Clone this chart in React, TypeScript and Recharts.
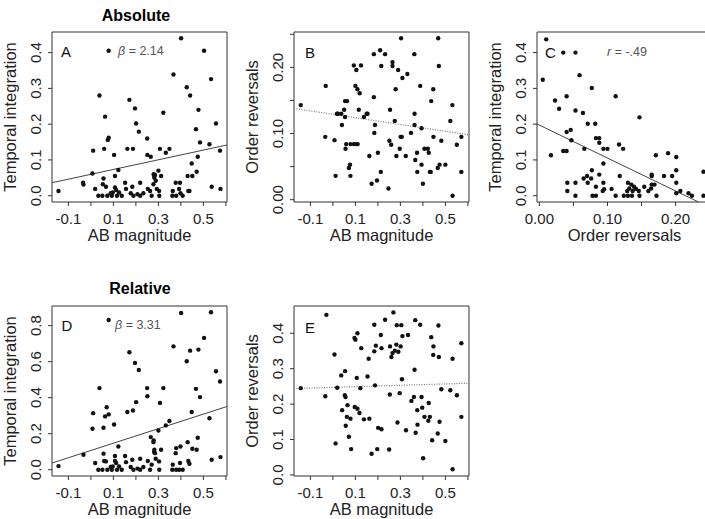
import React from 'react';
import { ScatterChart, Scatter, XAxis, YAxis, ReferenceArea, ReferenceLine } from 'recharts';

// [AB magnitude, temporal integration] – absolute scores (panel A)
const absAbTi: [number, number][] = [
  [-0.144, 0.013], [-0.035, 0.036], [-0.033, 0.031], [0.007, 0.062], [0.010, 0.126], [0.019, 0.019],
  [0.033, 0], [0.038, 0.28], [0.051, 0], [0.053, 0.032], [0.056, 0.048], [0.059, 0.131],
  [0.063, 0.221], [0.067, 0.025], [0.073, 0], [0.075, 0.156], [0.079, 0.162], [0.079, 0.405],
  [0.088, 0.007], [0.093, 0], [0.097, 0.009], [0.103, 0.114], [0.107, 0.055], [0.107, 0.023],
  [0.112, 0.016], [0.116, 0], [0.122, 0.072], [0.125, 0.009], [0.137, 0], [0.152, 0.036],
  [0.156, 0.019], [0.162, 0.131], [0.171, 0.268], [0.177, 0.007], [0.184, 0.025], [0.187, 0.131],
  [0.189, 0], [0.196, 0.244], [0.201, 0.202], [0.207, 0.004], [0.213, 0.179], [0.219, 0.036],
  [0.219, 0], [0.233, 0.007], [0.25, 0.16], [0.251, 0.114], [0.253, 0.019], [0.263, 0.013],
  [0.266, 0.109], [0.27, 0], [0.278, 0.032], [0.279, 0.06], [0.281, 0.055], [0.282, 0.05],
  [0.285, 0.058], [0.288, 0.042], [0.293, 0.019], [0.3, 0.07], [0.303, 0.013], [0.304, 0],
  [0.307, 0.131], [0.312, 0.055], [0.322, 0.232], [0.333, 0.12], [0.349, 0.131], [0.362, 0],
  [0.364, 0.013], [0.367, 0.339], [0.377, 0.036], [0.379, 0], [0.392, 0.019], [0.396, 0.036],
  [0.398, 0.007], [0.401, 0.44], [0.408, 0], [0.426, 0.303], [0.43, 0.055], [0.433, 0.013],
  [0.438, 0.013], [0.441, 0.28], [0.448, 0.09], [0.451, 0.055], [0.467, 0.186], [0.47, 0.067],
  [0.475, 0.109], [0.478, 0.24], [0.485, 0.149], [0.503, 0.405], [0.527, 0.144], [0.534, 0.326],
  [0.537, 0.025], [0.556, 0.202], [0.574, 0.126], [0.576, 0.019],
];

// [AB magnitude, order reversals] – absolute scores (panel B)
const absAbOr: [number, number][] = [
  [-0.143, 0.143], [-0.032, 0.172], [-0.034, 0.095], [0.007, 0.09], [0.012, 0.036], [0.018, 0.13],
  [0.022, 0.13], [0.037, 0.13], [0.04, 0.113], [0.05, 0.136], [0.054, 0.149], [0.054, 0.125],
  [0.056, 0.077], [0.059, 0.084], [0.063, 0.149], [0.071, 0.048], [0.076, 0.053], [0.078, 0.084],
  [0.078, 0.036], [0.093, 0.203], [0.093, 0.084], [0.1, 0.172], [0.104, 0.196], [0.104, 0.084],
  [0.109, 0.167], [0.11, 0.084], [0.115, 0.136], [0.119, 0.161], [0.125, 0.203], [0.138, 0.125],
  [0.15, 0.13], [0.154, 0.13], [0.162, 0.066], [0.172, 0.024], [0.182, 0.155], [0.182, 0.22],
  [0.184, 0.101], [0.187, 0.113], [0.196, 0.029], [0.2, 0.071], [0.21, 0.226], [0.215, 0.202],
  [0.213, 0.042], [0.232, 0.22], [0.247, 0.017], [0.251, 0.089], [0.254, 0.136], [0.259, 0.083],
  [0.265, 0.208], [0.265, 0.202], [0.275, 0.119], [0.279, 0.167], [0.282, 0.066], [0.29, 0.196],
  [0.297, 0.077], [0.301, 0.095], [0.303, 0.244], [0.306, 0.095], [0.309, 0.184], [0.324, 0.066],
  [0.331, 0.19], [0.347, 0.101], [0.362, 0.22], [0.363, 0.13], [0.363, 0.113], [0.366, 0.06],
  [0.374, 0.071], [0.375, 0.042], [0.388, 0.172], [0.394, 0.053], [0.394, 0.108], [0.4, 0.024],
  [0.407, 0.077], [0.422, 0.077], [0.426, 0.071], [0.431, 0.042], [0.435, 0.042], [0.437, 0.149],
  [0.446, 0.167], [0.447, 0.095], [0.466, 0.048], [0.468, 0.244], [0.471, 0.202], [0.474, 0.053],
  [0.482, 0.089], [0.5, 0.053], [0.522, 0.119], [0.531, 0.143], [0.532, 0.006], [0.551, 0.083],
  [0.571, 0.095], [0.571, 0.042],
];

// [order reversals, temporal integration] – absolute scores (panel C)
const absOrTi: [number, number][] = [
  [0.005, 0.324], [0.01, 0.437], [0.017, 0.113], [0.023, 0.266], [0.029, 0.243], [0.035, 0.4],
  [0.035, 0.125], [0.04, 0.278], [0.04, 0.178], [0.04, 0.125], [0.041, 0.036], [0.041, 0.013],
  [0.046, 0.184], [0.047, 0.155], [0.053, 0.4], [0.053, 0.238], [0.053, 0.036], [0.053, 0],
  [0.059, 0.337], [0.064, 0.231], [0.065, 0.048], [0.066, 0.131], [0.07, 0.055], [0.071, 0.201],
  [0.071, 0.036], [0.076, 0.048], [0.077, 0.301], [0.077, 0.071], [0.078, 0], [0.083, 0],
  [0.083, 0.025], [0.082, 0.201], [0.083, 0.161], [0.088, 0.161], [0.088, 0.148], [0.088, 0.059],
  [0.093, 0.013], [0.094, 0.09], [0.094, 0.036], [0.094, 0.131], [0.095, 0.018], [0.1, 0.131],
  [0.106, 0.019], [0.112, 0.278], [0.112, 0], [0.117, 0.143], [0.118, 0.055], [0.123, 0.131],
  [0.124, 0], [0.129, 0.013], [0.13, 0.036], [0.13, 0], [0.132, 0.02], [0.135, 0.031],
  [0.136, 0], [0.137, 0.013], [0.139, 0.025], [0.142, 0.019], [0.146, 0.013], [0.147, 0.219],
  [0.147, 0], [0.154, 0.025], [0.16, 0.013], [0.164, 0.02], [0.165, 0.055], [0.165, 0.059],
  [0.165, 0.031], [0.169, 0.031], [0.171, 0.113], [0.172, 0], [0.183, 0.055], [0.189, 0.119],
  [0.195, 0.055], [0.201, 0.108], [0.201, 0.071], [0.201, 0.036], [0.201, 0.007], [0.207, 0.013],
  [0.219, 0.007], [0.224, 0], [0.241, 0.067], [0.241, 0],
];

// [AB magnitude, temporal integration] – relative scores (panel D)
const relAbTi: [number, number][] = [
  [-0.144, 0.02], [-0.033, 0.083], [0.01, 0.314], [0.007, 0.227], [0.019, 0.037], [0.038, 0.453],
  [0.033, 0], [0.051, 0], [0.056, 0.233], [0.056, 0.089], [0.059, 0.048], [0.063, 0.296],
  [0.067, 0.046], [0.07, 0.347], [0.073, 0], [0.079, 0.307], [0.079, 0.831], [0.088, 0.015],
  [0.093, 0], [0.097, 0.018], [0.103, 0.251], [0.107, 0.076], [0.107, 0.048], [0.112, 0.037],
  [0.116, 0], [0.122, 0.129], [0.125, 0.018], [0.137, 0], [0.152, 0.076], [0.156, 0.042],
  [0.162, 0.32], [0.171, 0.652], [0.177, 0.015], [0.184, 0.055], [0.187, 0.329], [0.189, 0],
  [0.196, 0.593], [0.201, 0.375], [0.207, 0.006], [0.213, 0.554], [0.219, 0.061], [0.219, 0],
  [0.233, 0.015], [0.25, 0.453], [0.251, 0.408], [0.253, 0.048], [0.263, 0], [0.266, 0.181],
  [0.27, 0.028], [0.278, 0.153], [0.279, 0.163], [0.281, 0.098], [0.282, 0.111], [0.285, 0.092],
  [0.288, 0.061], [0.3, 0.218], [0.303, 0.046], [0.304, 0], [0.307, 0.371], [0.312, 0.111],
  [0.322, 0.453], [0.333, 0.246], [0.349, 0.27], [0.362, 0], [0.364, 0.028], [0.367, 0.685],
  [0.377, 0.092], [0.379, 0], [0.379, 0.12], [0.392, 0], [0.396, 0.037], [0.398, 0.129],
  [0.401, 0.87], [0.408, 0], [0.426, 0.602], [0.43, 0.153], [0.433, 0.048], [0.438, 0.033],
  [0.441, 0.661], [0.448, 0.32], [0.451, 0.116], [0.467, 0.449], [0.47, 0.111], [0.475, 0.177],
  [0.478, 0.667], [0.485, 0.403], [0.503, 0.732], [0.527, 0.286], [0.534, 0.874], [0.537, 0.055],
  [0.556, 0.547], [0.574, 0.49], [0.576, 0.07],
];

// [AB magnitude, order reversals] – relative scores (panel E)
const relAbOr: [number, number][] = [
  [-0.143, 0.245], [-0.029, 0.452], [-0.034, 0.222], [0.007, 0.34], [0.012, 0.089], [0.019, 0.246],
  [0.037, 0.281], [0.041, 0.183], [0.054, 0.293], [0.053, 0.225], [0.056, 0.22], [0.057, 0.139],
  [0.062, 0.164], [0.065, 0.197], [0.071, 0.108], [0.078, 0.159], [0.081, 0.073], [0.096, 0.387],
  [0.1, 0.382], [0.097, 0.192], [0.106, 0.274], [0.109, 0.4], [0.109, 0.187], [0.118, 0.175],
  [0.122, 0.245], [0.126, 0.358], [0.138, 0.157], [0.154, 0.278], [0.159, 0.328], [0.162, 0.159],
  [0.172, 0.06], [0.184, 0.349], [0.184, 0.424], [0.187, 0.253], [0.191, 0.365], [0.197, 0.073],
  [0.201, 0.133], [0.213, 0.395], [0.216, 0.358], [0.216, 0.129], [0.232, 0.438], [0.25, 0.072],
  [0.253, 0.227], [0.254, 0.363], [0.26, 0.333], [0.265, 0.344], [0.269, 0.459], [0.275, 0.351],
  [0.282, 0.368], [0.284, 0.423], [0.287, 0.148], [0.291, 0.348], [0.297, 0.231], [0.301, 0.363],
  [0.304, 0.423], [0.307, 0.27], [0.309, 0.392], [0.325, 0.126], [0.334, 0.395], [0.349, 0.209],
  [0.36, 0.22], [0.363, 0.297], [0.366, 0.437], [0.368, 0.119], [0.375, 0.183], [0.376, 0.142],
  [0.388, 0.424], [0.394, 0.22], [0.397, 0.19], [0.401, 0.047], [0.407, 0.164], [0.426, 0.203],
  [0.424, 0.153], [0.431, 0.164], [0.437, 0.389], [0.441, 0.098], [0.446, 0.339], [0.447, 0.363],
  [0.466, 0.117], [0.469, 0.422], [0.471, 0.333], [0.474, 0.15], [0.482, 0.242], [0.5, 0.096],
  [0.522, 0.239], [0.532, 0.328], [0.532, 0.016], [0.551, 0.225], [0.571, 0.372], [0.571, 0.164],
];

// regression fits: [intercept, slope]
const fitA: [number, number] = [0.0598, 0.1354];
const fitB: [number, number] = [0.1291, -0.0514];
const fitC: [number, number] = [0.1973, -0.92];
const fitD: [number, number] = [0.1068, 0.4036];
const fitE: [number, number] = [0.2473, 0.0193];

// axis domains (R style, 4% padding)
const abDomain: [number, number] = [-0.173, 0.605];
const tiAbsDomain: [number, number] = [-0.0176, 0.4576];
const orAbsDomain: [number, number] = [-0.0035, 0.2535];
const tiRelDomain: [number, number] = [-0.035, 0.909];
const orRelDomain: [number, number] = [-0.003, 0.477];

// ticks and their labels (blank = unlabeled tick)
const abTicks = [-0.1, 0, 0.1, 0.2, 0.3, 0.4, 0.5, 0.6];
const abLabels = ['-0.1', '', '0.1', '', '0.3', '', '0.5', ''];
const orAbsTicks = [0, 0.05, 0.1, 0.15, 0.2, 0.25];
const orAbsLabels = ['0.00', '', '0.10', '', '0.20', ''];
const tiAbsTicks = [0, 0.1, 0.2, 0.3, 0.4];
const tiAbsLabels = ['0.0', '0.1', '0.2', '0.3', '0.4'];
const tiRelTicks = [0, 0.2, 0.4, 0.6, 0.8];
const tiRelLabels = ['0.0', '0.2', '0.4', '0.6', '0.8'];
const orRelTicks = [0, 0.1, 0.2, 0.3, 0.4];
const orRelLabels = ['0.0', '0.1', '0.2', '0.3', '0.4'];

const FONT = '"Liberation Sans", Arial, sans-serif';
const PAD_L = 52;
const PAD_T = 32;
const PAD_R = 6;
const PAD_B = 45;
const BOX_W = 175;
const BOX_H = 170;

interface PanelProps {
    left: number;
    top: number;
    data: [number, number][];
    xDomain: [number, number];
    yDomain: [number, number];
    xTicks: number[];
    xLabels: string[];
    yTicks: number[];
    yLabels: string[];
    xTitle: string;
    yTitle: string;
    fit: [number, number];
    dotted?: boolean;
}

// end points of the fitted line, clipped to the plot region
const fitSegment = (fit: [number, number], xd: [number, number], yd: [number, number]) => {
    const [b, m] = fit;
    const clip = (x: number) => {
        let y = b + m * x;
        if (y < yd[0]) { x = (yd[0] - b) / m; y = yd[0]; }
        if (y > yd[1]) { x = (yd[1] - b) / m; y = yd[1]; }
        return { x, y };
    };
    return [clip(xd[0]), clip(xd[1])];
};

const Panel: React.FC<PanelProps> = (p) => {
    const points = p.data.map(([x, y]) => ({ x, y }));

    const xTick = (t: any) => {
        const label = p.xLabels[p.xTicks.indexOf(t.payload.value)];
        if (!label) return <g />;
        return (
            <text x={t.x} y={t.y + 15.5} textAnchor="middle" fontSize={15} fontFamily={FONT} fill="#222">
                {label}
            </text>
        );
    };

    const yTick = (t: any) => {
        const label = p.yLabels[p.yTicks.indexOf(t.payload.value)];
        if (!label) return <g />;
        return (
            <text x={t.x} y={t.y} dy={-5} transform={`rotate(-90 ${t.x} ${t.y})`} textAnchor="middle"
                fontSize={15} fontFamily={FONT} fill="#222">
                {label}
            </text>
        );
    };

    const cx = PAD_L + BOX_W / 2;
    const cy = PAD_T + BOX_H / 2;

    return (
        <div style={{ position: 'absolute', left: p.left - PAD_L, top: p.top - PAD_T }}>
            <ScatterChart
                width={PAD_L + BOX_W + PAD_R}
                height={PAD_T + BOX_H + PAD_B}
                margin={{ top: PAD_T, right: PAD_R, bottom: 0, left: 0 }}
            >
                <XAxis
                    type="number"
                    dataKey="x"
                    domain={p.xDomain}
                    ticks={p.xTicks}
                    interval={0}
                    allowDataOverflow
                    height={PAD_B}
                    axisLine={false}
                    tickSize={4}
                    tickLine={{ stroke: '#333' }}
                    tick={xTick}
                    label={{
                        content: () => (
                            <text x={cx} y={PAD_T + BOX_H + 38.5} textAnchor="middle" fontSize={16.5}
                                fontFamily={FONT} fill="#222">
                                {p.xTitle}
                            </text>
                        ),
                    }}
                />
                <YAxis
                    type="number"
                    dataKey="y"
                    domain={p.yDomain}
                    ticks={p.yTicks}
                    interval={0}
                    allowDataOverflow
                    width={PAD_L}
                    axisLine={false}
                    tickSize={4}
                    tickLine={{ stroke: '#333' }}
                    tick={yTick}
                    label={{
                        content: () => (
                            <text x={PAD_L - 36} y={cy} transform={`rotate(-90 ${PAD_L - 36} ${cy})`}
                                textAnchor="middle" fontSize={16.5} fontFamily={FONT} fill="#222">
                                {p.yTitle}
                            </text>
                        ),
                    }}
                />
                <ReferenceArea
                    x1={p.xDomain[0]}
                    x2={p.xDomain[1]}
                    y1={p.yDomain[0]}
                    y2={p.yDomain[1]}
                    fill="none"
                    stroke="#333"
                    strokeWidth={1}
                    ifOverflow="visible"
                />
                <ReferenceLine
                    segment={fitSegment(p.fit, p.xDomain, p.yDomain)}
                    stroke={p.dotted ? '#777' : '#444'}
                    strokeWidth={p.dotted ? 1.2 : 1}
                    strokeDasharray={p.dotted ? '1 1.5' : undefined}
                    ifOverflow="visible"
                />
                <Scatter
                    data={points}
                    isAnimationActive={false}
                    shape={(s: any) => <circle cx={s.cx} cy={s.cy} r={2.2} fill="#111" />}
                />
            </ScatterChart>
        </div>
    );
};

const txt = (left: number, top: number, size: number, extra: React.CSSProperties = {}): React.CSSProperties => ({
    position: 'absolute',
    left,
    top,
    fontSize: size,
    lineHeight: `${size}px`,
    fontFamily: FONT,
    whiteSpace: 'nowrap',
    ...extra,
});

export default function App() {
    return (
        <div style={{ position: 'fixed', left: 0, top: 0, width: 705, height: 519, overflow: 'hidden', background: '#fff' }}>
            <Panel left={52} top={32} data={absAbTi} xDomain={abDomain} yDomain={tiAbsDomain}
                xTicks={abTicks} xLabels={abLabels} yTicks={tiAbsTicks} yLabels={tiAbsLabels}
                xTitle="AB magnitude" yTitle="Temporal integration" fit={fitA} />
            <Panel left={294} top={32} data={absAbOr} xDomain={abDomain} yDomain={orAbsDomain}
                xTicks={abTicks} xLabels={abLabels} yTicks={orAbsTicks} yLabels={orAbsLabels}
                xTitle="AB magnitude" yTitle="Order reversals" fit={fitB} dotted />
            <Panel left={537} top={32} data={absOrTi} xDomain={orAbsDomain} yDomain={tiAbsDomain}
                xTicks={orAbsTicks} xLabels={orAbsLabels} yTicks={tiAbsTicks} yLabels={tiAbsLabels}
                xTitle="Order reversals" yTitle="Temporal integration" fit={fitC} />
            <Panel left={52} top={306} data={relAbTi} xDomain={abDomain} yDomain={tiRelDomain}
                xTicks={abTicks} xLabels={abLabels} yTicks={tiRelTicks} yLabels={tiRelLabels}
                xTitle="AB magnitude" yTitle="Temporal integration" fit={fitD} />
            <Panel left={294} top={306} data={relAbOr} xDomain={abDomain} yDomain={orRelDomain}
                xTicks={abTicks} xLabels={abLabels} yTicks={orRelTicks} yLabels={orRelLabels}
                xTitle="AB magnitude" yTitle="Order reversals" fit={fitE} dotted />

            <div style={txt(136, 8, 16, { fontWeight: 'bold', transform: 'translateX(-50%)', color: '#000' })}>Absolute</div>
            <div style={txt(140, 281, 16, { fontWeight: 'bold', transform: 'translateX(-50%)', color: '#000' })}>Relative</div>

            <div style={txt(61, 43.5, 15, { color: '#111' })}>A</div>
            <div style={txt(305, 44.5, 15, { color: '#111' })}>B</div>
            <div style={txt(545, 44.5, 15, { color: '#111' })}>C</div>
            <div style={txt(61.5, 317.5, 15, { color: '#111' })}>D</div>
            <div style={txt(305, 319.5, 15, { color: '#111' })}>E</div>

            <div style={txt(118, 45, 12.5, { color: '#555' })}><i>β</i> = 2.14</div>
            <div style={txt(115, 319, 12.5, { color: '#555' })}><i>β</i> = 3.31</div>
            <div style={txt(607, 46, 12.5, { color: '#555' })}><i>r</i> = -.49</div>
        </div>
    );
}
